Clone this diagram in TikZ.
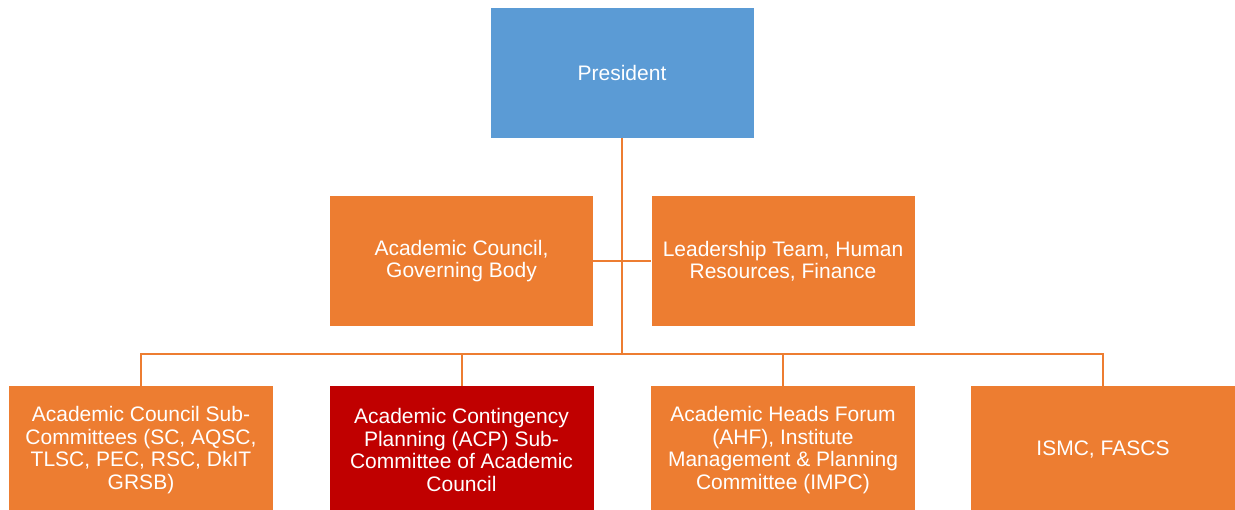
\documentclass[tikz,border=0pt]{standalone}
\usepackage{fontspec}
\setmainfont{Liberation Sans}
\definecolor{pblue}{HTML}{5B9BD5}
\definecolor{porange}{HTML}{ED7D31}
\definecolor{pred}{HTML}{C00000}
\definecolor{lineor}{HTML}{ED7D31}
\begin{document}
\begin{tikzpicture}[x=1pt,y=-1pt,
  box/.style={draw=none,fill=porange,text=white,align=center,inner sep=0pt,
    minimum width=263pt,minimum height=130pt,
    font=\fontsize{21}{22.5}\selectfont},
  bbox/.style={box,minimum width=264pt,minimum height=128pt},
  conn/.style={draw=lineor,line width=2pt}]
\useasboundingbox (0,0) rectangle (1235,510);
\clip (0,0) rectangle (1235,510);
\node[box,fill=pblue] (pres) at (622,73) {President};
\node[box] (ac) at (461.5,261) {Academic Council,\\Governing Body};
\node[box] (lt) at (783,261) {Leadership Team, Human\\Resources, Finance};
\node[bbox] (b1) at (141,450) {Academic Council Sub-\\Committees (SC, AQSC,\\TLSC, PEC, RSC, DkIT\\GRSB)};
\node[bbox,fill=pred] (b2) at (461.5,450) {Academic Contingency\\Planning (ACP) Sub-\\Committee of Academic\\Council};
\node[bbox] (b3) at (783,450) {Academic Heads Forum\\(AHF), Institute\\Management \& Planning\\Committee (IMPC)};
\node[bbox] (b4) at (1103,450) {ISMC, FASCS};
\coordinate (hub) at (622,354);
\draw[conn] (pres.south) -- (hub);
\draw[conn] (ac.east) -- (lt.west);
\draw[conn] (b1.north) |- (hub);
\draw[conn] (b4.north) |- (hub);
\draw[conn] (b2.north) -- (b2.north |- hub);
\draw[conn] (b3.north) -- (b3.north |- hub);
\end{tikzpicture}
\end{document}
